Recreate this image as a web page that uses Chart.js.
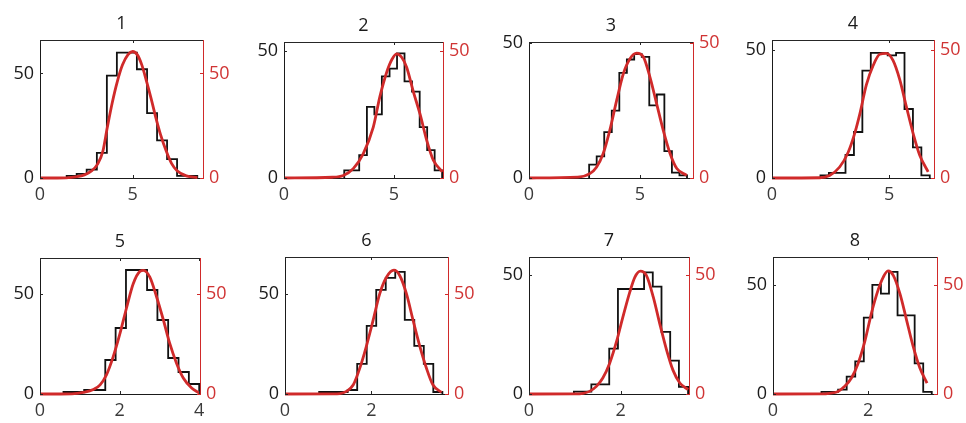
<!DOCTYPE html>
<html><head><meta charset="utf-8">
<script src="https://cdn.jsdelivr.net/npm/chart.js@4/dist/chart.umd.min.js"></script>
<style>
html,body{margin:0;padding:0;background:#fff;width:966px;height:423px;overflow:hidden;position:relative}
canvas{position:absolute}
</style>
</head><body>
<script>
// ---- data ----
const titles = ['1','2','3','4','5','6','7','8'];

const p1Edges  = [1.44,1.98,2.52,3.07,3.61,4.15,4.69,5.23,5.78,6.32,6.86,7.40,7.94,8.49];
const p1Counts = [1,2,4,12,49,60,60,52,31,18,9,1,1];
const p1FitX   = [0,1.4,2.0,2.4,2.8,3.1,3.4,3.63,3.9,4.17,4.45,4.75,5.0,5.25,5.5,5.76,6.0,6.25,6.5,6.83,7.1,7.4,7.9,8.5];
const p1FitY   = [0,0.1,0.6,1.5,3.5,6.5,13,24,36,46,54,59,60.5,59,54,46,38,29,21,12.5,7,3.5,1,0.2];

const p2Edges  = [2.74,3.08,3.42,3.77,4.11,4.45,4.80,5.14,5.48,5.82,6.17,6.51,6.85,7.19];
const p2Counts = [3,3,9,28,25,40,43,49,38,34,20,11,3];
const p2FitX   = [0,2.2,2.7,3.15,3.6,4.06,4.36,4.67,4.9,5.12,5.35,5.58,5.88,6.19,6.49,6.79,7.2];
const p2FitY   = [0,0.3,1,3.7,9.5,20,32,41.6,46.5,48.8,47.5,43.5,34,25,14.8,7,2.4];

const p3Edges  = [2.71,3.05,3.39,3.73,4.07,4.41,4.74,5.08,5.42,5.76,6.10,6.44,6.78,7.12];
const p3Counts = [5,8,17,25,39,44,46,45,27,31,10,2,1];
const p3FitX   = [0,2.2,2.74,3.04,3.34,3.64,3.95,4.25,4.55,4.85,5.15,5.45,5.75,6.05,6.36,6.66,7.11];
const p3FitY   = [0,0.3,1.6,4,9,17.7,28.8,38.7,44.3,46.4,45,37.5,27.6,17.7,9,3.5,1];

const p4Edges  = [2.07,2.43,2.79,3.14,3.50,3.86,4.22,4.58,4.94,5.30,5.66,6.02,6.38,6.74];
const p4Counts = [1,2,2,9,18,42,49,49,48,49,27,12,1];
const p4FitX   = [0,2.04,2.46,2.89,3.25,3.53,3.75,4.03,4.32,4.6,4.89,5.17,5.46,5.74,6.03,6.31,6.67];
const p4FitY   = [0,0.1,1,4.3,10,17.4,25,36.4,44,48.4,48.8,46,38.4,27.9,17.4,8.9,2.4];

const p5Edges  = [0.59,0.85,1.11,1.38,1.64,1.90,2.16,2.43,2.69,2.95,3.22,3.48,3.74,4.00];
const p5Counts = [1,1,2,2,17,33,62,62,52,37,18,11,5];
const p5FitX   = [0,0.8,1.09,1.34,1.51,1.67,1.84,2.01,2.18,2.34,2.51,2.6,2.76,2.93,3.1,3.26,3.43,3.6,3.81,4.0];
const p5FitY   = [0,0.1,0.8,2.2,4.6,9.6,18.7,30.3,43.5,55,61.3,61.8,58.4,48.5,37,25.3,15.4,8,3,0.5];

const p6Edges  = [0.79,1.01,1.23,1.45,1.67,1.89,2.11,2.33,2.55,2.77,2.99,3.21,3.43,3.64];
const p6Counts = [1,1,1,2,15,34,52,58,61,37,24,15,1];
const p6FitX   = [0,1.1,1.27,1.42,1.58,1.73,1.88,2.04,2.19,2.35,2.52,2.65,2.81,2.96,3.12,3.27,3.42,3.62];
const p6FitY   = [0,0.05,0.2,1.3,4.6,12.9,23.7,37,50,58.4,61.8,59.3,50,37,23.7,13,4.6,0.8];

const p7Edges  = [0.98,1.17,1.36,1.56,1.75,1.94,2.13,2.32,2.51,2.70,2.89,3.08,3.27,3.47];
const p7Counts = [1,1,4,4,19,44,44,44,51,45,26,14,3];
const p7FitX   = [0,1.0,1.18,1.32,1.47,1.61,1.76,1.91,2.05,2.2,2.31,2.43,2.56,2.71,2.85,3.0,3.14,3.29,3.47];
const p7FitY   = [0,0.05,0.3,1.1,3.2,6.7,12.9,22,32.4,42.8,49,51.5,49.7,40.7,29.6,18.5,10,4.6,1.8];

const p8Edges  = [1.02,1.20,1.37,1.55,1.73,1.91,2.09,2.27,2.44,2.62,2.80,2.98,3.16,3.34];
const p8Counts = [1,1,2,8,15,35,50,46,56,36,36,14,1];
const p8FitX   = [0,1.0,1.19,1.37,1.51,1.65,1.79,1.93,2.07,2.21,2.32,2.42,2.53,2.67,2.81,2.95,3.09,3.24];
const p8FitY   = [0,0.05,0.3,1.2,3.5,7.3,14,24,37,47.6,53.6,56.4,54.4,46,33.9,21.7,11.9,5];

const xMaxes = [8.8,7.23,7.39,6.92,4.02,3.77,3.49,3.45];
const yMaxes = [66,53.5,50.5,54,68,68.4,57.4,62.8];
const xTickLabels = [[0,5],[0,5],[0,5],[0,5],[0,2,4],[0,2],[0,2],[0,2]];
const yTickLabels = [0,50];

// ---- layout (plot-box position of each panel, pixels) ----
const boxes = [
  [40,40,203,178],[284,42,443,178],[529,42,693,178],[772,40,934,178],
  [40,258,200,394],[285,257,448,394],[529,257,689,394],[773,257,937,394]
];
const L = 44, R = 44, T = 40, B = 30;
const FONT = "'Open Sans', 'Noto Sans', sans-serif";
const RED = '#d02a2a';
const RED_TXT = '#d03434';

const panels = [
  [p1Edges,p1Counts,p1FitX,p1FitY],[p2Edges,p2Counts,p2FitX,p2FitY],
  [p3Edges,p3Counts,p3FitX,p3FitY],[p4Edges,p4Counts,p4FitX,p4FitY],
  [p5Edges,p5Counts,p5FitX,p5FitY],[p6Edges,p6Counts,p6FitX,p6FitY],
  [p7Edges,p7Counts,p7FitX,p7FitY],[p8Edges,p8Counts,p8FitX,p8FitY]
];

const boxPlugin = {
  id: 'boxTicks',
  afterDraw(chart) {
    const {ctx, chartArea: a, scales} = chart;
    ctx.save();
    ctx.lineWidth = 1;
    ctx.strokeStyle = '#262626';
    ctx.beginPath();
    ctx.moveTo(a.left, a.top + 0.5); ctx.lineTo(a.right, a.top + 0.5);
    ctx.stroke();
    const tl = 3;
    ctx.beginPath();
    scales.x.ticks.forEach(t => {
      const px = Math.round(scales.x.getPixelForValue(t.value)) + 0.5;
      ctx.moveTo(px, a.bottom); ctx.lineTo(px, a.bottom - tl);
      ctx.moveTo(px, a.top); ctx.lineTo(px, a.top + tl);
    });
    scales.y.ticks.forEach(t => {
      const py = Math.round(scales.y.getPixelForValue(t.value)) + 0.5;
      ctx.moveTo(a.left, py); ctx.lineTo(a.left + tl, py);
    });
    ctx.stroke();
    ctx.strokeStyle = RED;
    ctx.beginPath();
    scales.y2.ticks.forEach(t => {
      const py = Math.round(scales.y2.getPixelForValue(t.value)) + 0.5;
      ctx.moveTo(a.right, py); ctx.lineTo(a.right - tl, py);
    });
    ctx.stroke();
    ctx.restore();
  }
};

panels.forEach((p, i) => {
  const [edges, counts, fx, fy] = p;
  const [bl, bt, br, bb] = boxes[i];
  const cv = document.createElement('canvas');
  const w = (br - bl) + L + R, h = (bb - bt) + T + B;
  cv.width = w; cv.height = h;
  cv.style.left = (bl - L) + 'px'; cv.style.top = (bt - T) + 'px';
  cv.style.width = w + 'px'; cv.style.height = h + 'px';
  document.body.appendChild(cv);

  const hist = [{x: edges[0], y: 0}];
  counts.forEach((c, k) => hist.push({x: edges[k], y: c}));
  hist.push({x: edges[edges.length - 1], y: 0});
  const fit = fx.map((x, k) => ({x, y: fy[k]}));

  new Chart(cv, {
    type: 'line',
    data: {
      datasets: [
        {data: fit, yAxisID: 'y2', borderColor: RED, borderWidth: 2.8, pointRadius: 0,
         cubicInterpolationMode: 'monotone', fill: false, clip: 4},
        {data: hist, yAxisID: 'y', borderColor: '#111', borderWidth: 1.8, pointRadius: 0,
         stepped: 'before', fill: false, clip: 4}
      ]
    },
    options: {
      responsive: false, animation: false, devicePixelRatio: 1,
      layout: {padding: 0},
      plugins: {
        legend: {display: false}, tooltip: {enabled: false},
        title: {display: true, text: titles[i], color: '#1a1a1a',
          font: {family: FONT, size: 18, weight: 'normal'},
          padding: {top: 12.7, bottom: 5.7}}
      },
      scales: {
        x: {type: 'linear', position: 'bottom', min: 0, max: xMaxes[i],
          grid: {display: false, drawTicks: false},
          border: {display: true, color: '#1a1a1a', width: 1},
          afterBuildTicks: s => { s.ticks = xTickLabels[i].map(v => ({value: v})); },
          afterFit: s => { s.height = B; },
          ticks: {color: '#3a3a3a', padding: 6, maxRotation: 0, autoSkip: false,
            font: {family: FONT, size: 18}, callback: v => String(v)}},
        y: {type: 'linear', position: 'left', min: 0, max: yMaxes[i],
          grid: {display: false, drawTicks: false},
          border: {display: true, color: '#1a1a1a', width: 1},
          afterBuildTicks: s => { s.ticks = yTickLabels.map(v => ({value: v})); },
          afterFit: s => { s.width = L; },
          ticks: {color: '#1a1a1a', padding: 6, autoSkip: false,
            font: {family: FONT, size: 18}, callback: v => String(v)}},
        y2: {type: 'linear', position: 'right', min: 0, max: yMaxes[i],
          grid: {display: false, drawTicks: false},
          border: {display: true, color: RED, width: 1},
          afterBuildTicks: s => { s.ticks = yTickLabels.map(v => ({value: v})); },
          afterFit: s => { s.width = R; },
          ticks: {color: RED_TXT, padding: 6, autoSkip: false,
            font: {family: FONT, size: 18}, callback: v => String(v)}}
      }
    },
    plugins: [boxPlugin]
  });
});
</script>
</body></html>
